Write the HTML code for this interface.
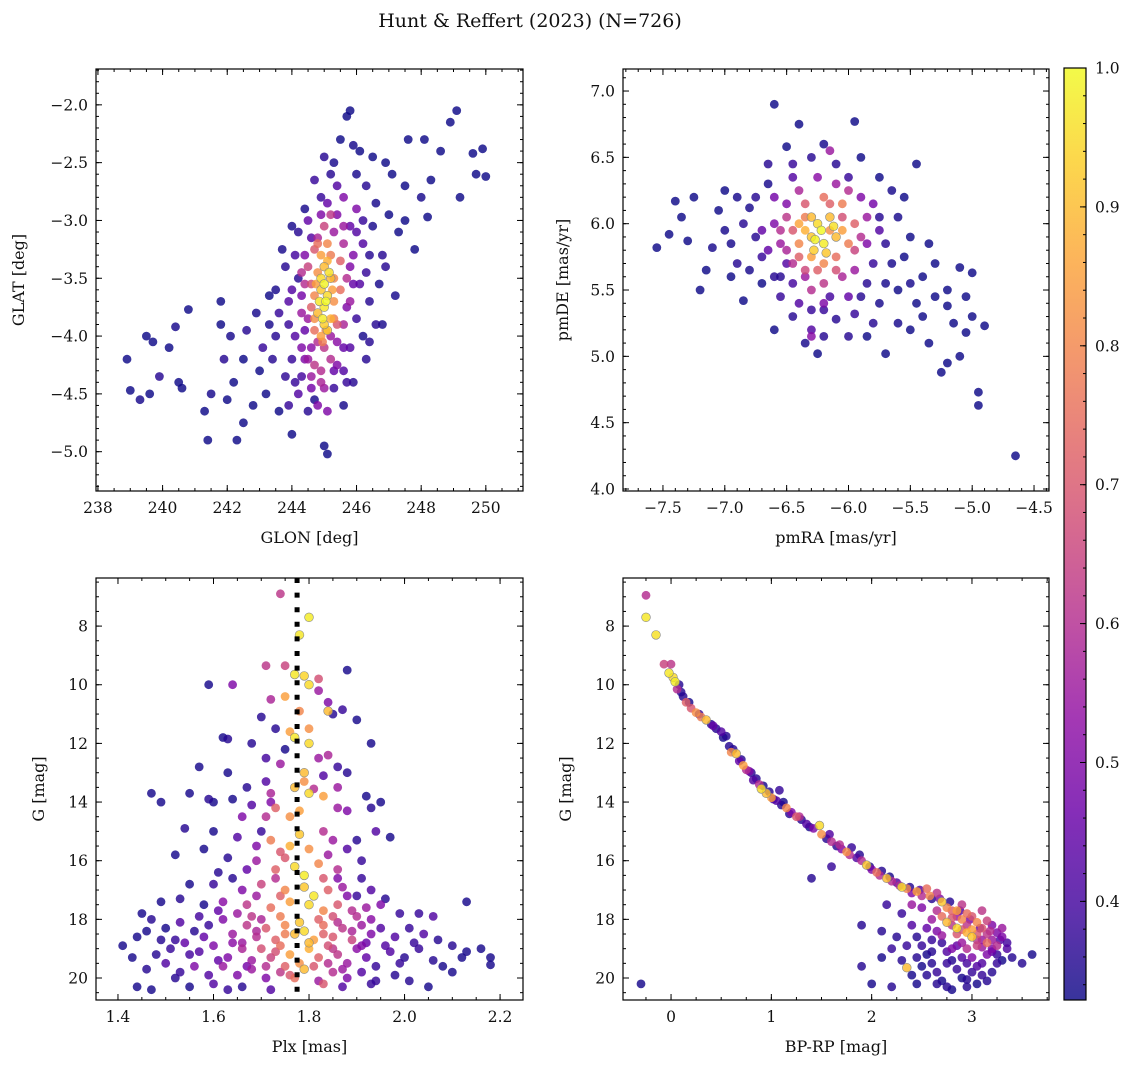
<!DOCTYPE html>
<html><head><meta charset="utf-8"><style>
html,body{margin:0;padding:0;background:#fff;width:1136px;height:1068px;overflow:hidden}
svg text{font-family:"DejaVu Serif","Liberation Serif",serif;fill:#111}
</style></head><body>
<svg id="fig" width="1136" height="1068" viewBox="0 0 1136 1068" xmlns="http://www.w3.org/2000/svg">
<text x="530" y="27" font-size="19" text-anchor="middle">Hunt &amp; Reffert (2023) (N=726)</text>
</svg>
<script>
// ---- data: [x, y, membership probability] ----
const skyPoints = [
[238.9,-4.2,.32],[239.0,-4.47,.33],[239.3,-4.55,.34],[239.5,-4.0,.32],[239.7,-4.05,.33],[239.6,-4.5,.32],[239.9,-4.35,.36],[240.2,-4.1,.33],[240.4,-3.92,.34],[240.6,-4.45,.32],[240.8,-3.77,.33],[240.5,-4.4,.33],
[241.3,-4.65,.33],[241.4,-4.9,.32],[241.5,-4.5,.34],[241.8,-3.9,.33],[241.8,-3.7,.32],[241.9,-4.2,.36],[242.0,-4.55,.33],[242.1,-4.0,.34],[242.2,-4.4,.32],[242.3,-4.9,.33],[242.5,-4.75,.33],[242.6,-3.95,.36],[242.5,-4.2,.33],[242.8,-4.6,.33],[242.9,-3.8,.34],[243.0,-4.3,.32],[243.1,-4.1,.38],[243.2,-4.5,.33],[243.3,-3.65,.33],[243.5,-4.0,.36],[243.6,-4.65,.32],[243.7,-3.25,.34],[243.8,-4.35,.37],[243.9,-3.7,.42],[244.0,-4.85,.33],[244.1,-4.4,.38],[244.2,-3.1,.36],[244.3,-4.1,.5],[244.4,-2.9,.34],[244.5,-4.65,.36],[244.6,-3.15,.42],[244.7,-4.55,.34],[244.9,-2.8,.38],[245.0,-4.95,.33],[245.1,-5.02,.33],[245.2,-2.6,.36],[245.3,-4.3,.45],[245.5,-2.3,.33],[245.6,-4.6,.34],[245.7,-2.1,.32],[245.8,-2.05,.33],[245.8,-4.1,.42],[246.0,-2.6,.34],[246.1,-2.4,.33],[246.2,-3.0,.38],[246.3,-4.2,.36],[246.5,-2.45,.33],[246.6,-2.85,.34],[246.8,-3.3,.36],[246.9,-2.5,.33],[247.0,-2.95,.33],[247.2,-3.65,.34],[247.3,-3.1,.33],[247.5,-2.7,.32],[247.6,-2.3,.33],[247.8,-3.25,.33],[248.0,-2.8,.34],[248.1,-2.3,.32],[248.3,-2.65,.33],[248.2,-2.97,.33],[248.6,-2.4,.32],[248.9,-2.15,.33],[249.1,-2.05,.33],[249.2,-2.8,.32],[249.6,-2.42,.33],[249.9,-2.38,.32],[250.0,-2.62,.33],[249.7,-2.6,.33],
[244.2,-3.5,.36],[244.0,-3.6,.42],[243.9,-3.9,.38],[244.3,-3.8,.55],[244.4,-3.3,.5],[244.5,-3.0,.45],[244.3,-3.45,.6],[244.1,-4.0,.42],[244.4,-4.2,.5],[244.6,-4.35,.55],[244.8,-4.6,.5],[244.9,-4.3,.6],[245.0,-4.1,.62],[245.2,-4.0,.55],[245.4,-4.25,.5],[245.6,-3.9,.58],[245.7,-3.5,.6],[245.8,-3.7,.55],[245.9,-3.3,.5],[246.0,-3.85,.38],[246.1,-3.55,.42],[246.3,-3.45,.38],[246.4,-3.7,.36],[246.2,-3.2,.42],[246.0,-2.9,.5],[245.8,-3.05,.45],[245.6,-2.8,.5],[245.4,-2.7,.42],[245.3,-3.1,.55],[245.2,-2.95,.62],[245.0,-3.05,.65],[244.8,-3.15,.58],[244.7,-3.25,.7],[244.6,-3.55,.68],[244.6,-3.75,.72],[244.7,-3.95,.75],[244.8,-4.05,.6],[244.6,-4.1,.52],[245.5,-3.6,.75],[245.5,-3.35,.72],[245.4,-3.9,.7],[245.6,-4.3,.42],[245.9,-4.4,.36],[246.2,-4.0,.34],[246.6,-3.9,.36],[246.7,-3.55,.34],[243.8,-3.4,.36],[243.6,-3.8,.38],[243.4,-4.2,.36],[243.9,-4.6,.38],[244.2,-4.5,.42],[245.1,-4.65,.5],[244.9,-4.4,.58],[245.3,-4.45,.38],
[244.1,-3.3,.4],[244.0,-3.05,.34],[244.3,-3.65,.48],[244.5,-3.85,.55],[244.4,-3.95,.45],[244.3,-4.35,.4],[244.6,-4.45,.48],[245.0,-4.45,.55],[245.2,-4.2,.6],[245.4,-4.05,.52],[245.6,-4.1,.45],[245.7,-3.75,.5],[245.9,-3.55,.45],[245.8,-3.4,.5],[246.0,-3.1,.42],[246.4,-3.3,.36],[246.5,-3.05,.34],[245.6,-3.2,.58],[245.4,-2.95,.5],[245.1,-2.85,.45],[244.9,-2.95,.5],[244.7,-2.65,.38],[245.0,-2.45,.36],[245.3,-2.5,.34],[245.9,-2.35,.34],[246.3,-2.7,.36],[246.9,-3.4,.36],[246.8,-3.9,.34],[246.4,-4.05,.36],[245.7,-4.4,.38],[244.5,-4.2,.55],[244.7,-4.25,.62],[244.4,-3.55,.6],[244.5,-3.4,.65],[245.6,-3.05,.55],[243.5,-3.6,.34],[243.3,-3.9,.34],[244.0,-4.2,.38],[247.5,-3.0,.33],[247.1,-2.6,.33],
[244.9,-3.3,.85],[245.1,-3.35,.88],[245.2,-3.5,.9],[244.8,-3.45,.82],[244.9,-3.6,.92],[245.1,-3.65,.95],[245.0,-3.75,.97],[244.8,-3.8,.9],[245.2,-3.85,.88],[245.0,-3.9,.93],[244.9,-4.0,.85],[245.1,-3.2,.8],[245.3,-3.7,.82],[244.7,-3.65,.8],[245.0,-3.55,.99],[245.05,-3.7,1.0],[244.95,-3.85,.98],[245.15,-3.45,.96],[244.85,-3.7,.97],[245.1,-3.95,.92],[245.2,-3.3,.78],[244.8,-3.2,.75],[245.3,-3.5,.8],[244.75,-3.55,.85],[245.25,-3.6,.85],[245.0,-3.4,.9],[244.9,-3.5,.95],[245.05,-3.95,.8],[245.3,-3.85,.78],[244.7,-3.85,.82],[244.95,-4.05,.78]
];
const pmPoints = [
[-7.55,5.82,.32],[-7.45,5.92,.33],[-7.4,6.17,.32],[-7.35,6.05,.33],[-7.3,5.87,.33],[-7.2,5.5,.32],[-7.1,5.82,.34],[-7.05,6.1,.33],[-7.0,6.25,.33],[-6.95,5.6,.33],[-6.9,5.7,.36],[-6.85,5.42,.33],[-6.8,6.12,.34],[-6.75,5.9,.36],[-6.7,5.55,.33],[-6.65,6.3,.34],[-6.6,5.6,.36],[-6.6,6.9,.33],[-6.5,6.58,.33],[-6.45,5.3,.36],[-6.4,6.75,.33],[-6.35,5.1,.34],[-6.3,5.2,.42],[-6.25,5.02,.33],[-6.1,5.28,.36],[-5.95,6.77,.33],[-5.95,5.32,.38],[-5.85,5.15,.33],[-5.75,5.4,.34],[-5.7,5.02,.33],[-5.6,5.5,.33],[-5.55,6.2,.33],[-5.5,5.55,.34],[-5.45,6.45,.33],[-5.4,5.3,.33],[-5.35,5.1,.33],[-5.3,5.45,.32],[-5.2,5.38,.33],[-5.15,5.25,.33],[-5.1,5.0,.32],[-5.05,5.18,.33],[-5.0,5.63,.32],[-5.0,5.3,.33],[-4.95,4.73,.32],[-4.95,4.63,.33],[-4.9,5.23,.32],[-5.1,5.67,.33],[-5.25,4.88,.32],[-5.2,4.95,.33],[-4.65,4.25,.32],[-5.55,5.75,.33],[-5.4,5.6,.33],[-5.75,6.05,.36],[-5.6,6.05,.34],[-5.65,5.7,.34],[-5.9,6.5,.33],[-6.2,6.6,.34],[-6.1,6.45,.36],[-6.0,6.35,.38],[-6.3,6.5,.36],[-6.15,6.55,.55],[-7.25,6.2,.33],[-7.0,5.95,.34],[-6.85,6.0,.36],[-6.7,5.75,.38],[-6.8,5.65,.34],[-5.8,5.7,.38],[-5.7,5.85,.36],[-5.85,5.55,.36],[-5.5,5.9,.33],[-5.3,5.7,.33],[-5.45,5.4,.33],[-5.6,5.25,.34],[-5.8,5.25,.36],[-6.0,5.15,.36],[-6.2,5.35,.38],[-6.4,5.4,.42],[-6.55,5.45,.38],[-6.5,5.7,.42],
[-6.9,6.2,.34],[-6.75,6.2,.36],[-6.65,6.45,.36],[-6.45,6.45,.38],[-6.55,5.6,.36],[-6.45,5.55,.4],[-6.3,5.35,.38],[-6.15,5.45,.4],[-5.9,5.45,.36],[-5.7,5.55,.34],[-5.65,6.25,.34],[-5.75,6.35,.33],[-5.35,5.85,.33],[-5.2,5.5,.33],[-5.05,5.45,.32],[-7.15,5.65,.33],[-6.95,5.85,.34],[-6.6,5.2,.33],[-6.2,5.15,.36],[-5.5,5.2,.33],
[-6.6,6.0,.5],[-6.55,5.85,.55],[-6.5,6.15,.5],[-6.4,6.25,.58],[-6.35,5.6,.55],[-6.3,5.5,.6],[-6.2,5.55,.62],[-6.05,5.6,.58],[-5.95,5.65,.55],[-5.85,5.85,.5],[-5.85,6.05,.55],[-5.9,6.2,.5],[-6.0,6.25,.6],[-6.1,6.3,.55],[-6.25,6.35,.52],[-6.45,6.35,.42],[-5.75,5.95,.42],[-6.65,5.8,.45],[-6.2,5.4,.5],[-6.0,5.45,.45],[-6.3,5.15,.52],[-6.45,5.95,.7],[-6.4,5.75,.72],[-6.1,5.75,.75],[-6.0,5.85,.78],[-5.95,6.0,.72],[-6.05,6.15,.78],[-6.2,6.2,.75],[-6.35,6.05,.78],[-6.4,5.85,.8],[-6.25,5.65,.72],[-6.15,5.95,.82],[-6.3,5.75,.85],
[-6.5,6.05,.62],[-6.55,5.95,.6],[-6.35,6.15,.7],[-6.15,6.15,.72],[-6.05,6.05,.68],[-5.9,5.9,.6],[-5.95,5.8,.65],[-6.1,5.65,.68],[-6.35,5.65,.66],[-6.5,5.8,.58],[-6.2,5.7,.8],[-6.45,5.7,.6],[-5.8,6.15,.48],[-6.7,5.95,.45],[-6.6,6.2,.48],
[-6.3,5.9,.92],[-6.25,6.0,.95],[-6.2,5.85,.98],[-6.15,6.05,.9],[-6.35,5.95,.88],[-6.28,5.8,.93],[-6.1,5.9,.9],[-6.22,5.95,1.0],[-6.4,6.0,.86],[-6.05,5.95,.85],[-6.3,6.05,.9],[-6.18,5.78,.92],[-6.12,5.98,.96],[-6.27,5.88,.99]
];
const plxPoints = [
[1.74,6.9,.62],[1.8,7.7,.98],[1.78,8.3,.97],[1.71,9.35,.62],[1.75,9.35,.65],[1.77,9.65,.97],[1.79,9.7,.94],[1.8,10.0,.95],[1.82,9.8,.68],[1.88,9.5,.34],[1.59,10.0,.34],[1.64,10.0,.5],[1.72,10.5,.58],[1.75,10.4,.85],[1.82,10.2,.55],[1.84,10.6,.5],[1.84,10.9,.9],[1.78,10.9,.8],[1.7,11.1,.36],[1.73,11.5,.36],[1.85,11.0,.36],[1.87,10.85,.38],[1.9,11.2,.34],[1.76,11.6,.85],[1.8,11.5,.82],[1.77,11.8,.97],[1.8,12.0,.95],[1.82,12.5,.55],[1.84,12.4,.58],[1.75,12.2,.34],[1.68,12.0,.36],[1.62,11.8,.34],[1.63,11.85,.36],[1.93,12.0,.34],
[1.57,12.8,.34],[1.63,13.0,.34],[1.74,12.7,.55],[1.79,13.0,.9],[1.83,13.1,.42],[1.86,13.5,.55],[1.71,13.3,.42],[1.81,13.55,.6],[1.72,13.7,.58],[1.77,13.5,.9],[1.79,13.3,.82],[1.8,13.7,.95],[1.83,13.8,.85],[1.47,13.7,.34],[1.49,14.0,.34],[1.55,13.7,.34],[1.59,13.9,.36],[1.6,14.0,.34],[1.64,13.9,.34],[1.68,14.1,.42],[1.73,14.2,.72],[1.71,14.5,.6],[1.76,14.5,.82],[1.78,14.3,.85],[1.86,14.2,.55],[1.88,14.3,.5],[1.92,13.8,.34],[1.93,14.2,.36],[1.95,14.0,.34],[1.66,14.5,.5],[1.54,14.9,.36],[1.52,15.8,.34],[1.58,15.6,.34],[1.6,15.0,.34],[1.65,15.2,.42],[1.7,15.0,.38],[1.72,15.3,.78],[1.74,15.7,.7],[1.76,15.5,.88],[1.78,15.1,.92],[1.8,15.6,.82],[1.83,15.0,.6],[1.85,15.3,.55],[1.88,15.6,.42],[1.9,15.3,.36],[1.94,15.0,.42],[1.97,15.2,.34],[1.63,15.9,.36],[1.69,16.0,.55],[1.73,16.3,.72],[1.77,16.2,.95],[1.79,16.5,.98],[1.82,16.1,.8],[1.86,16.3,.6],[1.91,16.0,.38],[1.55,16.8,.34],[1.6,16.8,.38],[1.64,16.6,.36],[1.66,17.0,.5],[1.7,16.8,.65],[1.75,17.0,.8],[1.79,16.9,.92],[1.81,17.2,.97],[1.84,17.0,.72],[1.87,16.9,.55],[1.9,17.2,.38],[1.93,17.0,.42],[1.96,17.3,.36],[1.49,17.4,.34],[1.53,17.3,.36],[1.58,17.5,.34],[1.62,17.4,.52],[1.67,17.5,.62],[1.72,17.6,.75],[1.76,17.4,.85],[1.8,17.5,.95],[1.83,17.7,.8],[1.86,17.5,.7],[1.89,17.7,.6],[1.92,17.6,.55],[1.95,17.5,.5],[1.99,17.8,.38],[2.03,17.8,.38],[2.06,17.9,.42],[2.13,17.4,.34],
[1.45,17.8,.34],[1.47,18.0,.36],[1.5,18.3,.34],[1.53,18.1,.42],[1.56,18.4,.36],[1.59,18.2,.38],[1.62,18.0,.5],[1.64,18.5,.55],[1.67,18.2,.62],[1.69,18.6,.6],[1.71,18.3,.7],[1.73,18.7,.72],[1.75,18.2,.8],[1.77,18.5,.9],[1.79,18.4,.95],[1.81,18.7,.85],[1.83,18.2,.75],[1.85,18.6,.7],[1.87,18.3,.62],[1.89,18.7,.65],[1.91,18.2,.55],[1.93,18.5,.5],[1.95,18.3,.42],[1.98,18.6,.42],[2.01,18.3,.38],[2.04,18.5,.42],[2.07,18.7,.36],[2.1,18.9,.36],[1.41,18.9,.34],[1.44,18.6,.34],[1.48,19.2,.36],[1.51,19.0,.38],[1.54,18.8,.45],[1.57,19.1,.42],[1.6,18.9,.5],[1.63,19.3,.5],[1.66,19.0,.58],[1.68,19.4,.55],[1.7,19.0,.68],[1.72,19.3,.65],[1.74,18.9,.75],[1.76,19.2,.85],[1.78,19.5,.82],[1.8,19.0,.88],[1.82,19.3,.72],[1.84,18.9,.68],[1.86,19.2,.62],[1.88,19.5,.55],[1.9,19.0,.52],[1.92,19.3,.45],[1.94,19.6,.38],[1.97,19.1,.42],[2.0,19.3,.36],[2.03,19.0,.38],[2.06,19.4,.36],[2.12,19.3,.34],[2.13,19.1,.34],[2.16,19.0,.34],[2.18,19.3,.34],[2.18,19.55,.34],[1.43,19.3,.34],[1.46,19.7,.36],[1.5,19.5,.42],[1.53,19.8,.38],[1.56,19.6,.5],[1.59,19.9,.42],[1.62,19.6,.55],[1.65,19.9,.5],[1.68,19.7,.55],[1.71,20.0,.5],[1.74,19.8,.62],[1.77,20.0,.75],[1.79,19.7,.9],[1.82,20.1,.55],[1.85,19.8,.6],[1.88,20.0,.5],[1.91,19.8,.42],[1.94,20.1,.38],[1.98,19.9,.36],[2.01,20.1,.36],[2.05,20.3,.34],[2.1,19.8,.34],[1.44,20.3,.34],[1.47,20.4,.34],[1.52,20.0,.36],[1.55,20.3,.34],[1.6,20.2,.42],[1.63,20.4,.38],[1.66,20.3,.36],[1.72,20.4,.42],[1.83,20.2,.7],[1.87,20.3,.42],[1.93,20.2,.38],
[1.7,18.0,.58],[1.74,17.9,.78],[1.78,18.1,.92],[1.82,18.0,.72],[1.86,18.1,.6],[1.9,17.9,.6],[1.66,18.8,.55],[1.8,18.8,.9],[1.75,19.6,.72],[1.84,19.5,.6],[1.69,17.2,.55],[1.83,16.6,.7],[1.73,16.6,.6],[1.72,14.0,.5],
[1.52,18.7,.38],[1.55,19.2,.4],[1.58,18.6,.45],[1.61,19.4,.45],[1.64,18.8,.52],[1.67,19.6,.48],[1.69,18.4,.58],[1.71,19.6,.6],[1.73,19.1,.68],[1.75,18.5,.78],[1.76,19.9,.7],[1.81,19.6,.7],[1.83,18.5,.72],[1.85,19.0,.62],[1.87,19.7,.55],[1.89,18.4,.58],[1.91,18.9,.5],[1.93,18.0,.52],[1.96,18.9,.42],[1.99,19.5,.38],[2.02,18.8,.38],[2.08,19.6,.34],[1.46,18.4,.34],[1.49,18.7,.36],[1.57,17.9,.4],[1.61,17.7,.45],[1.65,17.8,.55],[1.68,17.9,.62],[1.74,17.2,.72],[1.85,17.9,.68],[1.88,17.2,.5],[1.92,18.8,.46],[1.67,16.3,.45],[1.61,16.4,.36],[1.86,16.6,.5],[1.91,16.6,.38],[1.75,15.9,.7],[1.69,15.5,.5],[1.84,15.8,.55],[1.71,12.5,.4],[1.86,12.8,.38],[1.67,13.5,.36],[1.88,13.0,.36]
];
const cmdPoints = [
[-0.25,6.95,.6],[-0.25,7.7,.97],[-0.15,8.3,.96],[-0.07,9.3,.65],[0.0,9.3,.62],[-0.02,9.6,.97],[0.02,9.75,.95],[0.04,9.9,.98],[0.06,10.15,.6],[0.1,10.25,.36],[0.12,10.4,.36],[0.15,10.6,.72],[0.2,10.8,.7],[0.25,10.95,.82],[0.3,11.1,.78],[0.35,11.2,.9],[0.4,11.35,.36],[0.45,11.5,.36],[0.5,11.6,.42],[0.55,11.75,.36],[0.58,12.1,.36],[0.6,12.3,.8],[0.65,12.35,.9],[0.7,12.55,.36],[0.72,12.75,.85],[0.75,12.9,.6],[0.8,13.0,.36],[0.82,13.25,.42],[0.88,13.4,.6],[0.9,13.55,.95],[0.95,13.7,.9],[0.98,13.65,.36],[1.0,13.85,.85],[1.05,13.95,.42],[1.08,13.6,.38],[1.1,14.1,.36],[1.15,14.2,.8],[1.2,14.35,.5],[1.25,14.5,.7],[1.3,14.6,.36],[1.35,14.75,.42],[1.42,14.9,.5],[1.48,14.8,.95],[1.5,15.1,.82],[1.55,15.25,.36],[1.6,15.35,.6],[1.65,15.5,.36],[1.7,15.6,.5],[1.75,15.7,.82],[1.8,15.55,.38],[1.85,15.9,.42],[1.9,16.0,.6],[1.95,16.15,.92],[2.0,16.3,.5],[2.05,16.4,.75],[2.1,16.35,.36],[2.15,16.6,.9],[2.2,16.7,.6],[2.25,16.75,.42],[2.3,16.9,.95],[2.35,16.95,.8],[2.4,17.1,.5],[2.45,17.05,.85],[2.5,17.2,.6],[2.55,16.95,.75],[2.6,17.3,.36],[2.65,17.1,.62],[2.7,17.4,.92],[2.75,17.6,.8],[2.8,17.7,.72],[2.85,17.9,.55],[2.9,18.0,.8],[2.95,18.2,.62],[3.0,18.35,.85],[3.05,18.5,.7],[3.1,18.7,.55],[3.15,18.8,.75],[3.2,19.0,.5],[3.25,19.2,.38],[3.3,19.4,.34],
[0.08,10.0,.36],[0.18,10.6,.34],[0.28,11.0,.38],[0.42,11.4,.45],[0.52,11.8,.34],[0.62,12.2,.36],[0.68,12.6,.45],[0.78,12.95,.5],[0.85,13.2,.36],[0.92,13.45,.34],[1.02,13.9,.4],[1.12,14.0,.34],[1.18,14.4,.36],[1.28,14.5,.6],[1.38,14.85,.34],[1.58,15.1,.42],[1.68,15.45,.6],[1.78,15.8,.6],[1.88,15.8,.36],[1.98,16.2,.34],[2.08,16.5,.6],[2.18,16.55,.34],[2.28,16.85,.6],[2.38,16.9,.36],[2.48,17.0,.42],[2.58,17.2,.8],[2.68,17.3,.5],[2.78,17.4,.36],[2.88,17.7,.42],[2.98,18.0,.5],[3.08,18.3,.45],[3.18,18.4,.6],[3.28,18.7,.42],
[1.4,16.6,.36],[1.9,18.2,.36],[2.1,18.4,.36],[1.9,19.6,.36],[2.0,20.2,.34],[2.2,20.3,.36],[3.5,19.5,.36],[3.6,19.2,.34],[-0.3,20.2,.34],[1.6,16.2,.38],[2.15,17.5,.38],[2.35,19.65,.9],[2.2,19.0,.38],
[2.3,17.8,.38],[2.4,18.2,.42],[2.45,18.6,.36],[2.5,18.9,.38],[2.55,19.2,.34],[2.6,19.5,.36],[2.65,19.8,.38],[2.7,20.1,.34],[2.75,20.3,.36],[2.5,17.6,.5],[2.6,18.0,.55],[2.65,18.4,.5],[2.7,18.8,.38],[2.75,19.1,.42],[2.8,19.4,.36],[2.85,19.7,.38],[2.9,20.0,.34],[2.95,20.3,.36],[2.8,18.2,.62],[2.85,18.5,.7],[2.9,18.8,.55],[2.95,19.0,.6],[3.0,19.3,.5],[3.05,19.6,.42],[3.1,19.9,.38],[3.15,20.1,.36],[3.0,17.9,.7],[3.05,18.1,.8],[3.1,18.3,.7],[3.15,18.5,.62],[3.2,18.7,.55],[3.25,18.9,.6],[3.3,18.6,.5],[3.35,19.0,.42],[3.25,19.5,.38],[3.2,19.8,.36],[2.7,17.9,.75],[2.75,18.1,.9],[2.85,17.7,.85],[2.9,17.5,.62],[2.95,17.8,.75],[2.8,19.0,.5],[2.9,19.3,.42],[2.6,18.7,.38],[2.45,19.3,.36],[2.55,19.9,.36],[2.35,18.9,.38],[2.3,19.4,.36],[2.4,17.5,.55],[3.1,17.7,.62],[3.2,18.2,.5],[3.3,18.3,.55],[3.0,18.6,.92],[2.85,18.3,.95],[2.95,18.45,.88],[3.05,18.9,.65],[3.15,19.2,.5],[3.0,19.8,.38],[2.65,20.2,.36],[2.8,20.4,.34],
[2.55,18.3,.45],[2.7,18.55,.55],[2.85,18.9,.45],[2.95,19.5,.4],[3.1,19.5,.42],[3.2,19.1,.45],[3.1,18.95,.55],[2.9,18.35,.7],[3.05,18.7,.62],[2.75,19.5,.38],[2.6,19.1,.36],[2.5,19.6,.34],[2.4,19.9,.34],[2.25,18.6,.36],[2.65,17.7,.6],[2.8,17.95,.7],[3.15,18.05,.65],[3.25,18.45,.5],[3.35,18.8,.4],[3.4,19.3,.36],[2.95,20.05,.36],[3.05,20.2,.34],[2.45,20.2,.34],[2.1,19.3,.34]
];
const colorbarTicks = [0.4,0.5,0.6,0.7,0.8,0.9,1.0];
const pMin = 0.329, pMax = 1.0;

// ---- plasma colormap ----
const plasma = ["#0d0887","#41049d","#6a00a8","#8f0da4","#b12a90","#cc4778","#e16462","#f2844b","#fca636","#fcce25","#f0f921"];
function hex(c){return [parseInt(c.slice(1,3),16),parseInt(c.slice(3,5),16),parseInt(c.slice(5,7),16)];}
function cmap(p){
  let t=(p-pMin)/(pMax-pMin); t=Math.max(0,Math.min(1,t));
  const f=t*10, i=Math.min(9,Math.floor(f)), r=f-i;
  const a=hex(plasma[i]), b=hex(plasma[i+1]);
  return "rgb("+a.map((v,k)=>Math.round(v+(b[k]-v)*r)).join(",")+")";
}
const NS="http://www.w3.org/2000/svg";
const svg=document.getElementById("fig");
function el(tag,attrs,parent){const e=document.createElementNS(NS,tag);for(const k in attrs)e.setAttribute(k,attrs[k]);(parent||svg).appendChild(e);return e;}

function panel(cfg){
  const g=el("g",{});
  
  
  const {x0,x1,y0,y1,xmin,xmax,ymin,ymax}=cfg;
  const sx=v=>x0+(v-xmin)/(xmax-xmin)*(x1-x0);
  const sy=cfg.invert? (v=>y0+(v-ymin)/(ymax-ymin)*(y1-y0)) : (v=>y1-(v-ymin)/(ymax-ymin)*(y1-y0));
  const clipId="clip-"+cfg.name;
  const cp=el("clipPath",{id:clipId},g);
  el("rect",{x:x0,y:y0,width:x1-x0,height:y1-y0},cp);
  const pg=el("g",{"clip-path":"url(#"+clipId+")"},g);
  const pts=cfg.data.slice().sort((a,b)=>a[2]-b[2]);
  pts.forEach(d=>{
    const c=el("circle",{cx:sx(d[0]).toFixed(1),cy:sy(d[1]).toFixed(1),r:4.4,fill:cmap(d[2]),"fill-opacity":0.82,stroke:d[2]>0.88?"#888":"none","stroke-width":0.6},pg);
    
    
  });
  if(cfg.vline!==undefined){
    const l=el("line",{x1:sx(cfg.vline),x2:sx(cfg.vline),y1:y0,y2:y1,stroke:"#000","stroke-width":5,"stroke-dasharray":"5 9.6"},pg);
    
    
  }
  const tk=el("g",{stroke:"#000","stroke-width":1},g);
  const eps=1e-9;
  function range(min,max,step){const a=[];for(let v=Math.ceil((min-eps)/step)*step;v<=max+eps;v+=step)a.push(+v.toFixed(6));return a;}
  range(xmin,xmax,cfg.xminor).forEach(v=>{const X=sx(v);el("line",{x1:X,x2:X,y1:y1,y2:y1-3},tk);el("line",{x1:X,x2:X,y1:y0,y2:y0+3},tk);});
  range(ymin,ymax,cfg.yminor).forEach(v=>{const Y=sy(v);el("line",{x1:x0,x2:x0+3,y1:Y,y2:Y},tk);el("line",{x1:x1,x2:x1-3,y1:Y,y2:Y},tk);});
  cfg.xticks.forEach(v=>{const X=sx(v);el("line",{x1:X,x2:X,y1:y1,y2:y1-6},tk);el("line",{x1:X,x2:X,y1:y0,y2:y0+6},tk);
    const t=el("text",{x:X,y:y1+22,"font-size":15.5,"text-anchor":"middle"},g);t.textContent=cfg.fmtx(v).replace("-","\u2212");
    
    });
  cfg.yticks.forEach(v=>{const Y=sy(v);el("line",{x1:x0,x2:x0+6,y1:Y,y2:Y},tk);el("line",{x1:x1,x2:x1-6,y1:Y,y2:Y},tk);
    const t=el("text",{x:x0-8,y:Y+5.5,"font-size":15.5,"text-anchor":"end"},g);t.textContent=cfg.fmty(v).replace("-","\u2212");
    
    });
  const fr=el("rect",{x:x0,y:y0,width:x1-x0,height:y1-y0,fill:"none",stroke:"#000","stroke-width":1.2},g);
  
  
  const xl=el("text",{x:(x0+x1)/2,y:y1+52,"font-size":16,"text-anchor":"middle"},g);xl.textContent=cfg.xlabel;
  
  
  const yx=cfg.ylx, yy=(y0+y1)/2;
  const yl=el("text",{x:yx,y:yy,"font-size":16,"text-anchor":"middle",transform:"rotate(-90 "+yx+" "+yy+")"},g);yl.textContent=cfg.ylabel;
  
  
}
const f0=v=>String(Math.round(v)), f1=v=>v.toFixed(1);
panel({name:"sky-position-panel",data:skyPoints,x0:96,x1:523,y0:69,y1:491,xmin:237.94,xmax:251.15,ymin:-5.34,ymax:-1.69,
  xticks:[238,240,242,244,246,248,250],yticks:[-5,-4.5,-4,-3.5,-3,-2.5,-2],xminor:0.5,yminor:0.1,fmtx:f0,fmty:f1,xlabel:"GLON [deg]",ylabel:"GLAT [deg]",ylx:24});
panel({name:"proper-motion-panel",data:pmPoints,x0:623,x1:1049,y0:69,y1:491,xmin:-7.823,xmax:-4.379,ymin:3.985,ymax:7.166,
  xticks:[-7.5,-7,-6.5,-6,-5.5,-5,-4.5],yticks:[4,4.5,5,5.5,6,6.5,7],xminor:0.1,yminor:0.1,fmtx:f1,fmty:f1,xlabel:"pmRA [mas/yr]",ylabel:"pmDE [mas/yr]",ylx:568});
panel({name:"parallax-magnitude-panel",data:plxPoints,x0:96,x1:523,y0:578,y1:1000,xmin:1.354,xmax:2.248,ymin:6.36,ymax:20.75,invert:true,vline:1.775,
  xticks:[1.4,1.6,1.8,2.0,2.2],yticks:[8,10,12,14,16,18,20],xminor:0.05,yminor:0.5,fmtx:f1,fmty:f0,xlabel:"Plx [mas]",ylabel:"G [mag]",ylx:44});
panel({name:"color-magnitude-panel",data:cmdPoints,x0:623,x1:1049,y0:578,y1:1000,xmin:-0.479,xmax:3.768,ymin:6.36,ymax:20.75,invert:true,
  xticks:[0,1,2,3],yticks:[8,10,12,14,16,18,20],xminor:0.25,yminor:0.5,fmtx:f0,fmty:f0,xlabel:"BP-RP [mag]",ylabel:"G [mag]",ylx:571});

// ---- colorbar ----
(function(){
  const cx0=1064,cx1=1086,cy0=68,cy1=1000;
  const g=el("g",{});
  
  
  const grad=el("linearGradient",{id:"cbg",x1:0,y1:1,x2:0,y2:0},el("defs",{},g));
  for(let i=0;i<=20;i++){el("stop",{offset:i/20,"stop-color":cmap(pMin+(pMax-pMin)*i/20),"stop-opacity":0.82},grad);}
  el("rect",{x:cx0,y:cy0,width:cx1-cx0,height:cy1-cy0,fill:"url(#cbg)",stroke:"#000","stroke-width":1.2},g);
  const sy=v=>cy1-(v-pMin)/(pMax-pMin)*(cy1-cy0);
  for(let v=0.34;v<=1.0001;v+=0.02){const Y=sy(v);el("line",{x1:cx1,x2:cx1-3,y1:Y,y2:Y,stroke:"#000"},g);}
  colorbarTicks.forEach(v=>{const Y=sy(v);el("line",{x1:cx1,x2:cx1-6,y1:Y,y2:Y,stroke:"#000"},g);
    const t=el("text",{x:cx1+9,y:Y+5.5,"font-size":15.5},g);t.textContent=v.toFixed(1);
    
    });
})();
</script>
</body></html>
